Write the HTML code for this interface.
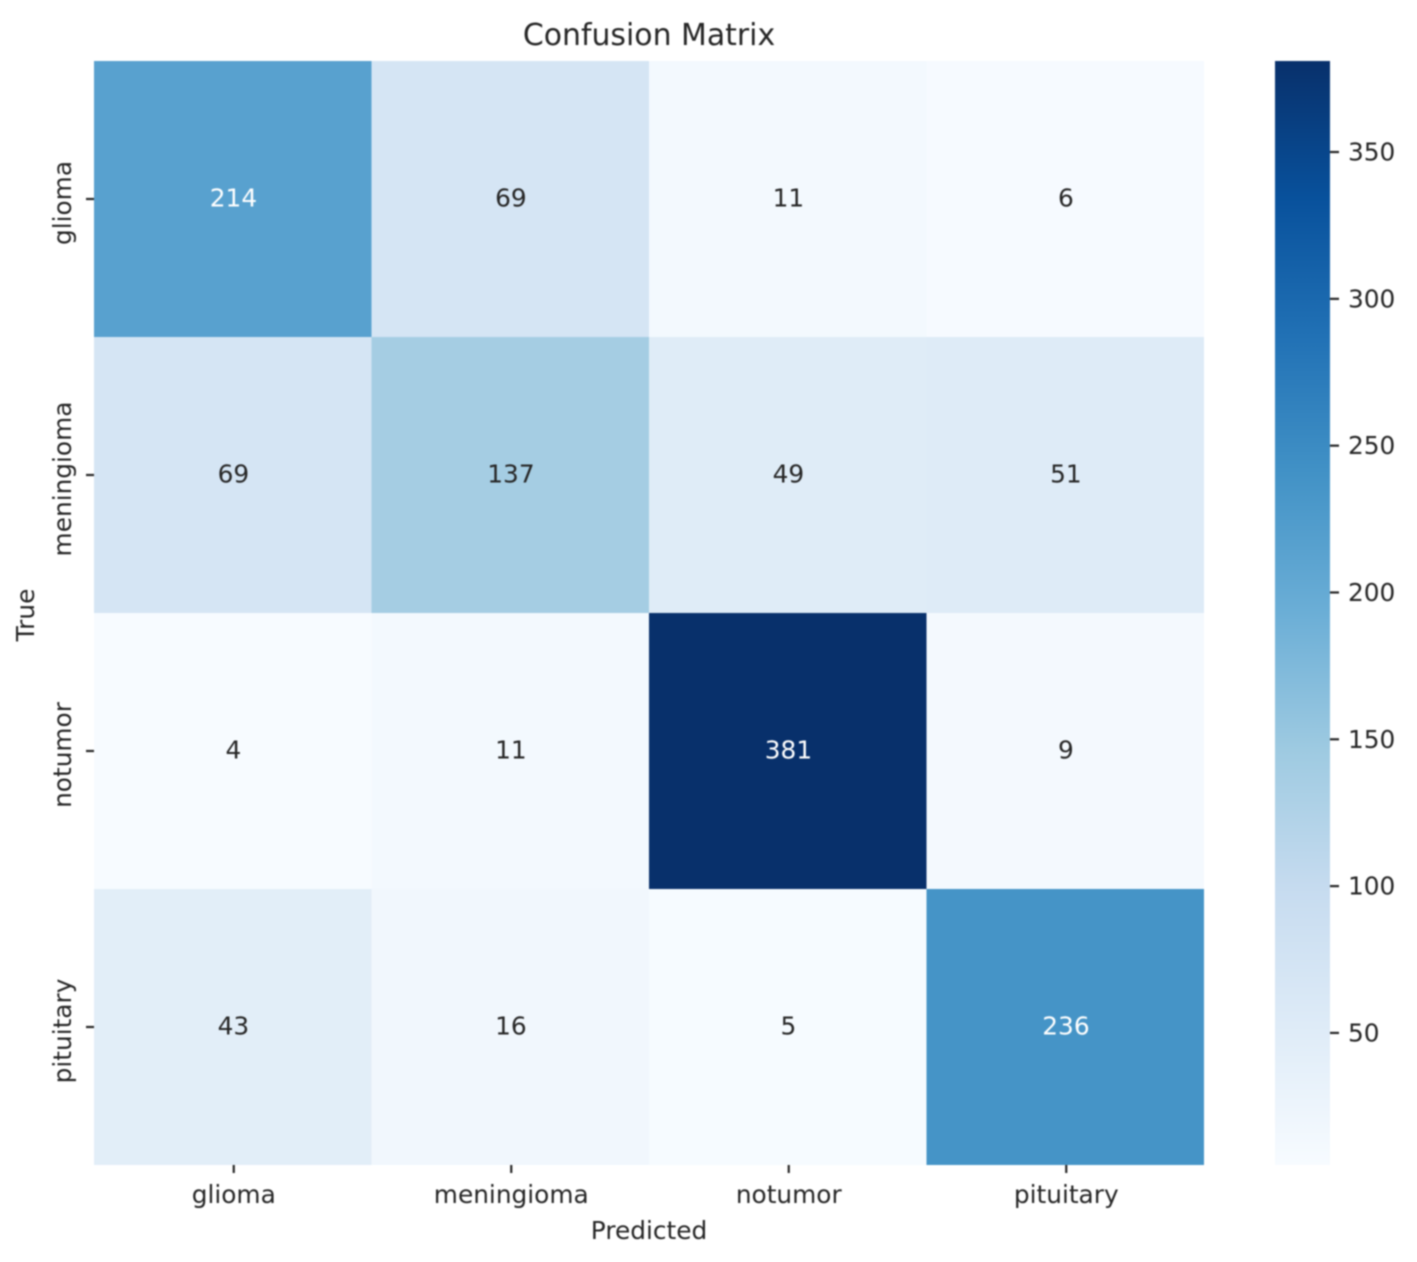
<!DOCTYPE html>
<html>
<head>
<meta charset="utf-8">
<title>Confusion Matrix</title>
<style>
html,body{margin:0;padding:0;background:#fff;}
#chart{display:block;width:1417px;height:1262px;}
text{font-family:"DejaVu Sans","Liberation Sans",sans-serif;}
</style>
</head>
<body>
<svg id="chart" xmlns="http://www.w3.org/2000/svg" width="1417" height="1262" viewBox="0 0 1417 1262">
<defs>
<filter id="soft" x="-5%" y="-5%" width="110%" height="110%" color-interpolation-filters="sRGB"><feGaussianBlur stdDeviation="0.9"/></filter>
<linearGradient id="cbar-gradient" x1="0" y1="1" x2="0" y2="0"></linearGradient>
</defs>
<g id="plot" filter="url(#soft)"></g>
</svg>
<script>
const categories = ["glioma", "meningioma", "notumor", "pituitary"];
const rowGlioma = [214, 69, 11, 6];
const rowMeningioma = [69, 137, 49, 51];
const rowNotumor = [4, 11, 381, 9];
const rowPituitary = [43, 16, 5, 236];
const matrix = [rowGlioma, rowMeningioma, rowNotumor, rowPituitary];
const colorbarTicks = [50, 100, 150, 200, 250, 300, 350];
const blues = ["#f7fbff", "#deebf7", "#c6dbef", "#9ecae1", "#6baed6", "#4292c6", "#2171b5", "#08519c", "#08306b"];
const titleText = "Confusion Matrix";
const xTitle = "Predicted";
const yTitle = "True";

const NS = "http://www.w3.org/2000/svg";
const plot = document.getElementById("plot");
const box = {l: 94, r: 1204, t: 61, b: 1165};
const cbar = {l: 1275, r: 1330, t: 61, b: 1165, scaleBottom: 1168};
const ink = "#262626";
const fontSize = 24.8;
const allValues = matrix.flat();
const vmin = Math.min(...allValues);
const vmax = Math.max(...allValues);

function make(tag, attrs) {
  const el = document.createElementNS(NS, tag);
  for (const k in attrs) el.setAttribute(k, attrs[k]);
  plot.appendChild(el);
  return el;
}
function hexToRgb(h) {
  return [1, 3, 5].map(i => parseInt(h.substr(i, 2), 16));
}
function colorOf(v) {
  const t = Math.max(0, Math.min(1, (v - vmin) / (vmax - vmin))) * (blues.length - 1);
  const i = Math.min(Math.floor(t), blues.length - 2);
  const a = hexToRgb(blues[i]);
  const b = hexToRgb(blues[i + 1]);
  const f = t - i;
  return "rgb(" + a.map((c, n) => Math.round(c + (b[n] - c) * f)).join(",") + ")";
}
function luminance(v) {
  const t = (v - vmin) / (vmax - vmin);
  return t;
}
const cellW = (box.r - box.l) / categories.length;
const cellH = (box.b - box.t) / categories.length;
const xPos = i => box.l + cellW * i;
const yPos = i => box.t + cellH * i;
const cbarY = v => cbar.scaleBottom - (v - vmin) / (vmax - vmin) * (cbar.scaleBottom - cbar.t);

// heatmap cells
matrix.forEach((row, r) => {
  row.forEach((v, c) => {
    const cell = make("rect", {x: xPos(c), y: yPos(r), width: cellW, height: cellH, fill: colorOf(v)});
    
    
  });
});
// cell annotations
matrix.forEach((row, r) => {
  row.forEach((v, c) => {
    const label = make("text", {
      x: xPos(c) + cellW / 2 + 0.7, y: yPos(r) + cellH / 2 + 7.5,
      "text-anchor": "middle", "font-size": fontSize,
      fill: luminance(v) > 0.5 ? "#ffffff" : ink
    });
    
    
    label.textContent = v;
  });
});
// category ticks and labels
categories.forEach((name, i) => {
  const cx = xPos(i) + cellW / 2 + 1;
  const cy = yPos(i) + cellH / 2;
  const xt = make("line", {x1: cx, x2: cx, y1: box.b, y2: box.b + 8, stroke: ink, "stroke-width": 2.2});
  
  
  const xl = make("text", {x: cx, y: 1203, "text-anchor": "middle", "font-size": fontSize, fill: ink});
  
  
  xl.textContent = name;
  const yt = make("line", {x1: box.l - 8, x2: box.l, y1: cy, y2: cy, stroke: ink, "stroke-width": 2.2});
  
  
  const yl = make("text", {"text-anchor": "middle", "font-size": fontSize, fill: ink, transform: "translate(71 " + (cy + 4) + ") rotate(-90)"});
  
  
  yl.textContent = name;
});
// colorbar
const grad = document.getElementById("cbar-gradient");
blues.forEach((c, i) => {
  const s = document.createElementNS(NS, "stop");
  s.setAttribute("offset", i / (blues.length - 1));
  s.setAttribute("stop-color", c);
  grad.appendChild(s);
});
const bar = make("rect", {x: cbar.l, y: cbar.t, width: cbar.r - cbar.l, height: cbar.b - cbar.t, fill: "url(#cbar-gradient)"});


colorbarTicks.forEach(v => {
  const y = cbarY(v);
  const t = make("line", {x1: cbar.r, x2: cbar.r + 9, y1: y, y2: y, stroke: ink, "stroke-width": 2.2});
  
  
  const l = make("text", {x: 1348, y: y + 8.5, "font-size": fontSize, fill: ink});
  
  
  l.textContent = v;
});
// titles
const title = make("text", {x: 649, y: 45, "text-anchor": "middle", "font-size": 29.9, fill: ink});


title.textContent = titleText;
const xa = make("text", {x: 649, y: 1239, "text-anchor": "middle", "font-size": fontSize, fill: ink});


xa.textContent = xTitle;
const ya = make("text", {"text-anchor": "middle", "font-size": fontSize, fill: ink, transform: "translate(34 615) rotate(-90)"});


ya.textContent = yTitle;
</script>
</body>
</html>
